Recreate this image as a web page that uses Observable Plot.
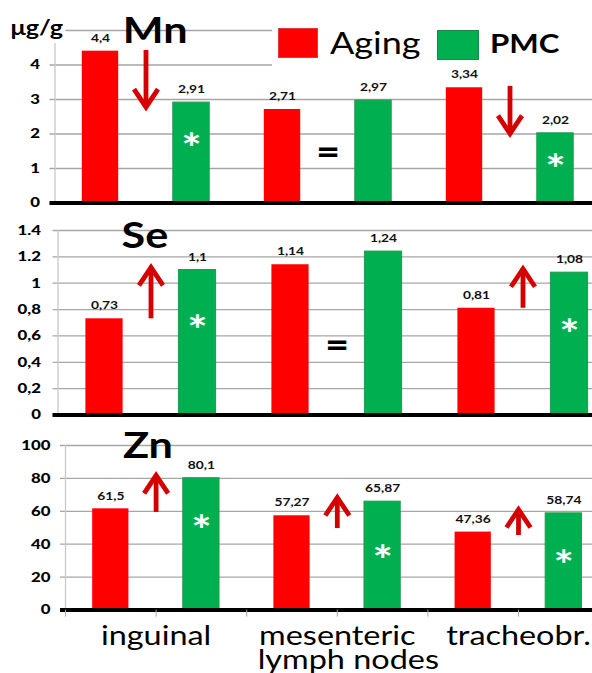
<!DOCTYPE html>
<html>
<head>
<meta charset="utf-8">
<script src="https://cdn.jsdelivr.net/npm/d3@7"></script>
<script src="https://cdn.jsdelivr.net/npm/@observablehq/plot@0.6"></script>
<style>
  html, body { margin: 0; padding: 0; background: #fff; overflow: hidden; }
  #chart { position: relative; width: 592px; height: 673px; }
  #chart svg { display: block; overflow: visible; }
  #legend { position: absolute; left: 272px; top: 17px; width: 320px; height: 50px; background: #fff; font-family: Lato, sans-serif; color: #000; }
  #legend .sw { position: absolute; box-sizing: border-box; }
  #legend .lab { position: absolute; white-space: nowrap; transform: scaleX(1.2); transform-origin: left center; }
</style>
</head>
<body>
<div id="chart"></div>
<script>
// ---------- data ----------
const sites = ["inguinal", "mesenteric", "tracheobr."];
const siteCaption = "lymph nodes";
const seriesNames = ["Aging", "PMC"];

const mnAging = [4.4, 2.71, 3.34];
const mnPMC   = [2.91, 2.97, 2.02];
const seAging = [0.73, 1.14, 0.81];
const sePMC   = [1.1, 1.24, 1.08];
const znAging = [61.5, 57.27, 47.36];
const znPMC   = [80.1, 65.87, 58.74];

const mnTicks = [0, 1, 2, 3, 4];
const mnTickLabels = ["0", "1", "2", "3", "4"];
const mnGrid = [0, 1, 2, 3, 4, 5];
const seTicks = [0, 0.2, 0.4, 0.6, 0.8, 1, 1.2, 1.4];
const seTickLabels = ["0", "0,2", "0,4", "0,6", "0,8", "1", "1.2", "1.4"];
const znTicks = [0, 20, 40, 60, 80, 100];
const znTickLabels = ["0", "20", "40", "60", "80", "100"];
const unitLabel = "μg/g";

// change arrows (aging value -> PMC value, as drawn), "=" marks, "*" marks
const mnArrows = [{g: 0, from: 4.42, to: 2.78}, {g: 2, from: 3.38, to: 2.01}];
const seArrows = [{g: 0, from: 0.73, to: 1.12}, {g: 2, from: 0.81, to: 1.11}];
const znArrows = [{g: 0, from: 59.3, to: 81.8}, {g: 1, from: 49.5, to: 68.4}, {g: 2, from: 45.3, to: 61.1}];
const mnEquals = [{g: 1, at: 1.45}];
const seEquals = [{g: 1, at: 0.52}];
const znEquals = [];
const mnStars = [{g: 0, at: 1.8}, {g: 2, at: 1.2}];
const seStars = [{g: 0, at: 0.70}, {g: 2, at: 0.67}];
const znStars = [{g: 0, at: 53}, {g: 1, at: 35}, {g: 2, at: 32}];

// ---------- styles ----------
const colors = {Aging: "#ff0000", PMC: "#00b050"};
const arrowColor = "#d40000";
const gridColor = "#a6a6a6";
const stretch = 1.2;

const chevronUp = {draw(c, size) { const r = Math.sqrt(size / Math.PI); c.moveTo(-r, 1.5 * r); c.lineTo(0, 0); c.lineTo(r, 1.5 * r); }};
const chevronDown = {draw(c, size) { const r = Math.sqrt(size / Math.PI); c.moveTo(-r, -1.5 * r); c.lineTo(0, 0); c.lineTo(r, -1.5 * r); }};

function rows(aging, pmc) {
  return sites.flatMap((s, i) => [
    {site: s, g: i, series: seriesNames[0], value: aging[i], pos: 2 * i},
    {site: s, g: i, series: seriesNames[1], value: pmc[i], pos: 2 * i + 1}
  ]);
}

const panels = [
  {title: "Mn", aging: mnAging, pmc: mnPMC, domain: [0, 5], grid: mnGrid, ticks: mnTicks, tickLabels: mnTickLabels,
   arrows: mnArrows, equals: mnEquals, stars: mnStars, titleAt: {x: 0.6, y: 4.96},
   height: 208, marginTop: 30, marginBottom: 5.5, marginLeft: 54.5, marginRight: -8.5, tickPadding: 15, unit: true, bottom: false},
  {title: "Se", aging: seAging, pmc: sePMC, domain: [0, 1.4], grid: seTicks, ticks: seTicks, tickLabels: seTickLabels,
   arrows: seArrows, equals: seEquals, stars: seStars, titleAt: {x: 0.435, y: 1.354},
   height: 212, marginTop: 22, marginBottom: 5.5, marginLeft: 57.5, marginRight: -23.5, tickPadding: 17, unit: false, bottom: false},
  {title: "Zn", aging: znAging, pmc: znPMC, domain: [0, 100], grid: znTicks, ticks: znTicks, tickLabels: znTickLabels,
   arrows: znArrows, equals: znEquals, stars: znStars, titleAt: {x: 0.41, y: 99.7},
   height: 253, marginTop: 25, marginBottom: 63.5, marginLeft: 65, marginRight: -16.6, tickPadding: 15, unit: false, bottom: true}
];

function stretchText(svg) {
  svg.querySelectorAll("text").forEach(t => {
    const tr = t.getAttribute("transform");
    t.setAttribute("transform", (tr ? tr + " " : "") + `scale(${stretch},1)`);
  });
  return svg;
}

function drawPanel(p) {
  const data = rows(p.aging, p.pmc);
  const up = p.arrows.filter(a => a.to > a.from);
  const down = p.arrows.filter(a => a.to < a.from);
  const marks = [
    Plot.ruleY(p.grid, {stroke: gridColor, strokeWidth: 1.3, insetLeft: -5}),
    Plot.ruleX([-0.5], {y1: 0, y2: p.domain[1], stroke: "#c8c8c8", strokeWidth: 1.3}),
    Plot.rect(data.filter(d => d.series === "Aging"), {x1: d => d.pos - 0.2, x2: d => d.pos + 0.2, y1: 0, y2: "value", fill: colors.Aging}),
    Plot.rect(data.filter(d => d.series === "PMC"), {x1: d => d.pos - 0.2, x2: d => d.pos + 0.2, y1: 0, y2: "value", fill: colors.PMC, stroke: "#1f9a4e", strokeWidth: 1}),
    Plot.ruleY([0], {stroke: "#000", strokeWidth: 4, insetLeft: -5}),
    Plot.axisY({ticks: p.ticks, tickFormat: d => p.tickLabels[p.ticks.indexOf(d)], tickSize: 0, tickPadding: p.tickPadding, label: null, fontSize: 14, fontWeight: 900}),
    Plot.text(data, {x: "pos", y: "value", text: d => String(d.value).replace(".", ","), dy: -13, lineAnchor: "middle", fontSize: 11.5, fontWeight: "bold", fill: "#111"}),
    Plot.text([p.title], {x: () => p.titleAt.x, y: () => p.titleAt.y, text: d => d, fontSize: 36, fontWeight: "bold", lineAnchor: "middle", fill: "#000"}),
    Plot.ruleX(p.arrows, {x: a => 2 * a.g + 0.5, y1: "from", y2: "to", stroke: arrowColor, strokeWidth: 4.8}),
    Plot.dot(up, {x: a => 2 * a.g + 0.5, y: "to", r: 12, symbol: chevronUp, fill: "none", stroke: arrowColor, strokeWidth: 4.8, strokeLinejoin: "miter"}),
    Plot.dot(down, {x: a => 2 * a.g + 0.5, y: "to", r: 12, symbol: chevronDown, fill: "none", stroke: arrowColor, strokeWidth: 4.8, strokeLinejoin: "miter"}),
    Plot.text(p.equals, {x: e => 2 * e.g + 0.5, y: "at", text: () => "=", fontSize: 34, fontWeight: 900, lineAnchor: "middle", fill: "#000"}),
    Plot.text(p.stars, {x: s => 2 * s.g + 1, y: "at", text: () => "*", fontSize: 40, fontWeight: "bold", lineAnchor: "middle", dy: 9.5, fill: "#fff"})
  ];
  if (p.unit) {
    marks.push(Plot.text([unitLabel], {frameAnchor: "top-left", textAnchor: "start", lineAnchor: "middle", dx: -44.5, dy: -2, fontSize: 21, fontWeight: "bold", fill: "#000", stroke: "#fff", strokeWidth: 8}));
  }
  if (p.bottom) {
    marks.push(Plot.axisX({ticks: [-0.5, 0.5, 1.5, 2.5, 3.5, 4.5, 5.5], tickFormat: () => "", tickSize: 7, stroke: gridColor, label: null}));
    marks.push(Plot.text(sites, {x: (d, i) => 2 * i + 0.5, frameAnchor: "bottom", lineAnchor: "top", dy: 16, fontSize: 27, fontWeight: "normal", fill: "#000"}));
    marks.push(Plot.text([siteCaption], {x: () => 2.5, frameAnchor: "bottom", lineAnchor: "top", dy: 40, dx: 11, fontSize: 27, fontWeight: "normal", fill: "#000"}));
  }
  const svg = Plot.plot({
    width: 592,
    height: p.height,
    marginTop: p.marginTop,
    marginBottom: p.marginBottom,
    marginLeft: p.marginLeft,
    marginRight: p.marginRight,
    x: {type: "linear", domain: [-0.5, 5.5], axis: p.bottom ? undefined : null},
    y: {domain: p.domain},
    style: {fontFamily: "Lato, sans-serif", fontSize: "14px", fontWeight: "bold", color: "#000", background: "transparent", overflow: "visible"},
    marks
  });
  return stretchText(svg);
}

const chart = document.getElementById("chart");
panels.forEach(p => chart.appendChild(drawPanel(p)));

// legend
const legend = document.createElement("div");
legend.id = "legend";
legend.innerHTML = `
  <div class="sw" style="left:6px;top:11px;width:40px;height:30px;background:${colors.Aging};border:1px solid #e23a3a;"></div>
  <div class="lab" style="left:58px;top:10px;font-size:30px;line-height:30px;font-weight:normal;">${seriesNames[0]}</div>
  <div class="sw" style="left:165px;top:13px;width:42px;height:30px;background:${colors.PMC};border:1.5px solid #1b8a45;"></div>
  <div class="lab" style="left:218px;top:13px;font-size:26px;line-height:26px;font-weight:bold;">${seriesNames[1]}</div>`;
chart.appendChild(legend);
</script>
</body>
</html>
